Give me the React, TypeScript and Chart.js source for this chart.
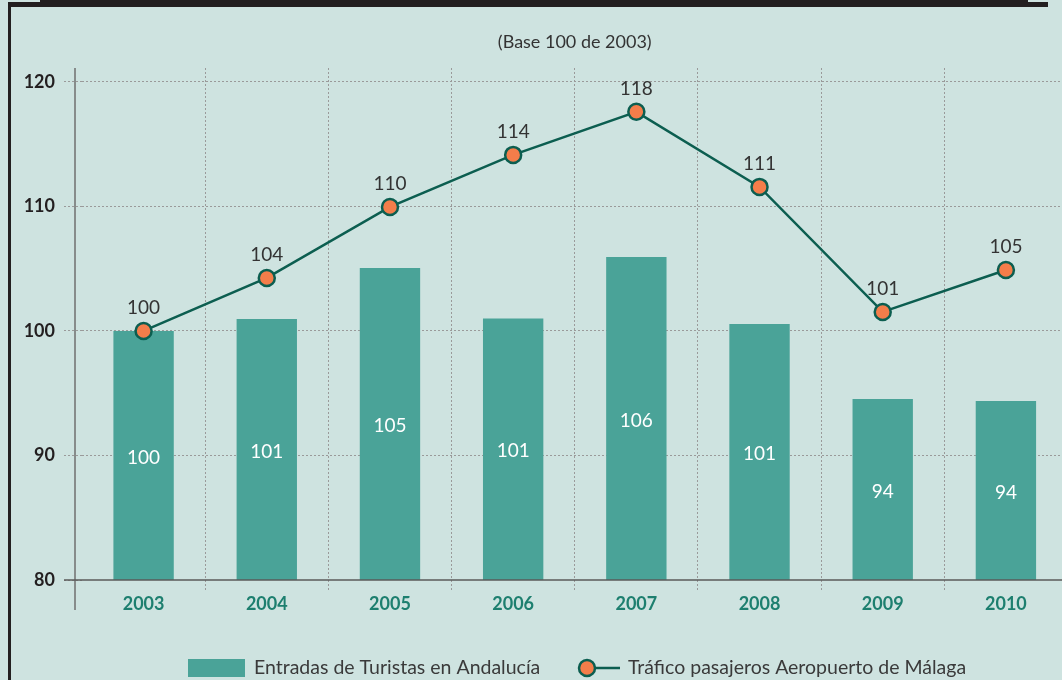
import React, { useEffect, useRef } from "react";
import { Chart, registerables } from "chart.js";

Chart.register(...registerables);

const years = ["2003", "2004", "2005", "2006", "2007", "2008", "2009", "2010"];
const turistas = [100, 100.96, 105.06, 101, 105.94, 100.56, 94.54, 94.38];
const turistasLabels = ["100", "101", "105", "101", "106", "101", "94", "94"];
const aeropuerto = [100, 104.26, 109.96, 114.14, 117.6, 111.57, 101.53, 104.9];
const aeropuertoLabels = ["100", "104", "110", "114", "118", "111", "101", "105"];
const yTicks = [80, 90, 100, 110, 120];

const subtitle = "(Base 100 de 2003)";
const barLegend = "Entradas de Turistas en Andalucía";
const lineLegend = "Tráfico pasajeros Aeropuerto de Málaga";

const BG = "#cee3e0";
const BAR = "#4aa398";
const LINE = "#0c5e50";
const POINT = "#f47d4a";
const DARK = "#231f20";
const FONT = "Lato, 'Open Sans', sans-serif";

const decorPlugin = {
  id: "decor",
  beforeDraw(chart: any) {
    const { ctx, width, height, chartArea } = chart;
    ctx.save();
    ctx.fillStyle = BG;
    ctx.fillRect(0, 0, width, height);
    // frame
    ctx.fillStyle = DARK;
    ctx.fillRect(8, 2, 1040, 5);
    ctx.fillRect(40, 0, 988, 2);
    ctx.fillRect(8, 2, 3, height);
    // subtitle
    ctx.fillStyle = "#333";
    ctx.font = `18px ${FONT}`;
    ctx.textAlign = "center";
    ctx.textBaseline = "middle";
    ctx.fillText(subtitle, (chartArea.left + chartArea.right) / 2, 42);
    ctx.restore();
  },
  afterDraw(chart: any) {
    const { ctx, chartArea, scales, width } = chart;
    const y = scales.y;
    ctx.save();
    // axes lines
    ctx.strokeStyle = "#6f6f6f";
    ctx.lineWidth = 1.5;
    ctx.beginPath();
    const ax = chartArea.left - 7;
    ctx.moveTo(ax, chartArea.top);
    ctx.lineTo(ax, chartArea.bottom + 30);
    ctx.stroke();
    ctx.strokeStyle = "#5a5a5a";
    ctx.beginPath();
    ctx.moveTo(chartArea.left - 18, y.getPixelForValue(80));
    ctx.lineTo(width, y.getPixelForValue(80));
    ctx.stroke();

    // legend
    const ly = 668;
    ctx.fillStyle = BAR;
    ctx.fillRect(188, ly - 9, 57, 18);
    ctx.fillStyle = "#3a3a3a";
    ctx.font = `19.5px ${FONT}`;
    ctx.textAlign = "left";
    ctx.textBaseline = "middle";
    ctx.fillText(barLegend, 254, ly);
    ctx.strokeStyle = LINE;
    ctx.lineWidth = 2.5;
    ctx.beginPath();
    ctx.moveTo(587, ly);
    ctx.lineTo(620, ly);
    ctx.stroke();
    ctx.beginPath();
    ctx.arc(587, ly, 8, 0, Math.PI * 2);
    ctx.fillStyle = POINT;
    ctx.fill();
    ctx.stroke();
    ctx.fillStyle = "#3a3a3a";
    ctx.fillText(lineLegend, 628, ly);

    // value labels
    ctx.font = `19px ${FONT}`;
    ctx.textAlign = "center";
    ctx.textBaseline = "middle";
    const x = scales.x;
    const base = y.getPixelForValue(80);
    turistas.forEach((v, i) => {
      const px = x.getPixelForValue(i);
      const top = y.getPixelForValue(v);
      ctx.fillStyle = "#ffffff";
      ctx.fillText(turistasLabels[i], px, (top + base) / 2 + 2);
    });
    aeropuerto.forEach((v, i) => {
      const px = x.getPixelForValue(i);
      const py = y.getPixelForValue(v);
      ctx.fillStyle = "#333333";
      ctx.fillText(aeropuertoLabels[i], px, py - 23);
    });
    ctx.restore();
  },
};

export default function App() {
  const ref = useRef<HTMLCanvasElement | null>(null);
  useEffect(() => {
    if (!ref.current) return;
    const chart = new Chart(ref.current, {
      type: "bar",
      data: {
        labels: years,
        datasets: [
          {
            type: "line",
            label: lineLegend,
            data: aeropuerto,
            borderColor: LINE,
            borderWidth: 2.5,
            backgroundColor: POINT,
            pointBackgroundColor: POINT,
            pointBorderColor: LINE,
            pointBorderWidth: 2.5,
            pointRadius: 8,
            tension: 0,
            order: 0,
          } as any,
          {
            type: "bar",
            label: barLegend,
            data: turistas,
            backgroundColor: BAR,
            barPercentage: 0.49,
            categoryPercentage: 1,
            order: 1,
          },
        ],
      },
      options: {
        responsive: false,
        animation: false,
        devicePixelRatio: 1,
        layout: { padding: { top: 68, left: 0, right: 4, bottom: 0 } },
        plugins: {
          legend: { display: false },
          tooltip: { enabled: false },
          title: { display: false },
        },
        scales: {
          x: {
            offset: true,
            grid: {
              offset: true,
              color: (c: any) => (c.index === 0 || c.index >= years.length ? "rgba(0,0,0,0)" : "#9a9a9a"),
              lineWidth: 1,
              tickLength: 10,
              tickColor: (c: any) => (c.index === 0 || c.index >= years.length ? "rgba(0,0,0,0)" : "#9a9a9a"),
              tickBorderDash: [2, 2],
            },
            border: { display: false, dash: [2, 2] },
            ticks: {
              color: "#1d7f6f",
              font: { family: FONT, size: 18, weight: "bold" },
              padding: 3,
            },
            afterFit: (s: any) => {
              s.height = 100;
            },
          },
          y: {
            min: 80,
            max: 121.12,
            afterBuildTicks: (axis: any) => {
              axis.ticks = yTicks.map((v) => ({ value: v }));
            },
            grid: {
              color: (c: any) => (c.tick && c.tick.value === 80 ? "rgba(0,0,0,0)" : "#9a9a9a"),
              lineWidth: 1,
              tickLength: 18,
              tickColor: "#9a9a9a",
              tickBorderDash: [2, 2],
            },
            border: { display: false, dash: [2, 2] },
            ticks: {
              color: DARK,
              font: { family: FONT, size: 18, weight: "bold" },
              padding: 9,
            },
            afterFit: (s: any) => {
              s.width = 82;
            },
          },
        },
      },
      plugins: [decorPlugin],
    });
    return () => chart.destroy();
  }, []);

  return (
    <div
      style={{
        position: "fixed",
        left: 0,
        top: 0,
        width: 1062,
        height: 680,
        overflow: "hidden",
        background: BG,
      }}
    >
      <canvas ref={ref} width={1078} height={680} style={{ width: 1078, height: 680, display: "block" }} />
    </div>
  );
}
